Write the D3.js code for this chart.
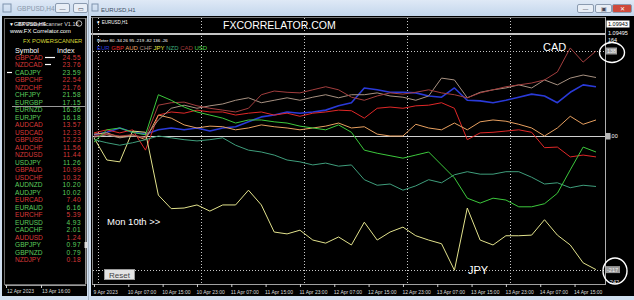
<!DOCTYPE html>
<html lang="en">
<head>
<meta charset="UTF-8">
<title>FX Correlator - EURUSD,H1</title>
<script src="https://cdn.jsdelivr.net/npm/d3@7"></script>
<style>
  html, body { margin: 0; padding: 0; background: #d9e5f2; }
  svg { display: block; font-family: 'Liberation Sans', Arial, sans-serif; }
</style>
</head>
<body>
<svg id="chart" width="634" height="300"></svg>
<script>
// ---- data ----
var currencies = ['EUR', 'GBP', 'AUD', 'CHF', 'JPY', 'NZD', 'CAD', 'USD'];
var colors = ['#2a3ad8', '#e02828', '#e8a060', '#a89282', '#e2e28c', '#3f9e7c', '#a33e3e', '#3cc83c'];
var legendColors = ['#2a3ad8', '#e02828', '#e8a060', '#a89282', '#e8e840', '#3fae7c', '#a33e3e', '#50d850'];
var meter = [80, -34, 26, 95, -219, -82, 136, -26];

// hourly bar index of each reading (bar 0 = 9 Apr 23:00)
var bars = [0, 3, 6, 9, 12, 15, 18, 21, 24, 27, 30, 33, 36, 39, 42, 45, 48, 51, 54, 57,
            60, 63, 66, 69, 72, 75, 78, 81, 84, 87, 90, 93, 96, 99, 102, 105, 108, 111, 114, 117];

var eur = [2, 6, 13, 6, 3, 10, 13, 10, 13, 8, 13, 15, 23, 31, 34, 39, 37, 39, 42, 49,
           54, 78, 75, 71, 71, 70, 65, 63, 78, 58, 57, 54, 58, 63, 68, 65, 54, 71, 83, 80];
var gbp = [5, 10, 5, 10, -23, 34, 39, 37, 42, 39, 39, 34, 37, 39, 34, 37, 32, 37, 39, 42,
           41, 29, 45, 47, 45, 49, 50, 54, 45, -6, 5, 6, 8, 10, 6, -19, -18, -34, -31, -34];
var aud = [3, 5, -2, 2, -6, 34, 29, 18, 13, 16, 15, 10, 13, 18, 15, 13, 10, 13, 16, 21,
           13, 15, 3, 0, 0, 19, 13, 10, 21, 10, 23, 26, 24, 19, 13, 0, 13, 32, 19, 26];
var chf = [-2, 2, -3, 0, -2, 26, 45, 50, 45, 49, 52, 58, 62, 54, 58, 62, 58, 63, 67, 62,
           67, 67, 70, 65, 63, 58, 65, 94, 91, 62, 71, 75, 78, 83, 78, 91, 83, 94, 99, 95];
var jpy = [-3, -39, -42, 8, 6, -96, -118, -117, -112, -122, -112, -112, -88, -112, -156, -159, -153, -169, -174, -164,
           -177, -140, -169, -156, -148, -162, -169, -175, -218, -117, -169, -177, -162, -162, -161, -136, -161, -177, -206, -217];
var nzd = [-6, -11, -15, -11, -6, 0, -3, -6, -8, -6, -3, -15, -23, -26, -31, -39, -42, -47, -44, -49,
           -47, -71, -80, -78, -88, -81, -71, -76, -63, -58, -62, -62, -58, -58, -67, -78, -76, -84, -80, -82];
var cad = [0, 3, 0, 2, -3, 50, 54, 55, 49, 45, 42, 39, 45, 67, 73, 71, 70, 75, 80, 75,
           63, 58, 65, 70, 68, 71, 75, 70, 67, 62, 70, 75, 80, 83, 86, 91, 104, 143, 120, 138];
var usd = [-10, 10, 13, 6, 2, 67, 58, 47, 39, 34, 29, 21, 26, 26, 23, 21, 16, 13, 10, 18,
           6, -23, -28, -32, -36, -31, -26, -47, -68, -101, -109, -101, -104, -115, -115, -110, -93, -55, -18, -26];
var seriesList = [eur, gbp, aud, chf, jpy, nzd, cad, usd];

var timeLabels = ['9 Apr 2023', '10 Apr 07:00', '10 Apr 15:00', '10 Apr 23:00', '11 Apr 07:00',
                  '11 Apr 15:00', '11 Apr 23:00', '12 Apr 07:00', '12 Apr 15:00', '12 Apr 23:00',
                  '13 Apr 07:00', '13 Apr 15:00', '13 Apr 23:00', '14 Apr 07:00', '14 Apr 15:00'];
var labelBars = [0, 8, 16, 24, 32, 40, 48, 56, 64, 72, 80, 88, 96, 104, 112];
var dayBars = [1, 25, 49, 73, 97];

var scanSymbols = ['GBPCAD', 'NZDCAD', 'CADJPY', 'GBPCHF', 'NZDCHF', 'CHFJPY', 'EURGBP', 'EURNZD', 'EURJPY',
                   'AUDCAD', 'USDCAD', 'GBPUSD', 'AUDCHF', 'NZDUSD', 'USDJPY', 'GBPAUD', 'USDCHF', 'AUDNZD',
                   'AUDJPY', 'EURCAD', 'EURAUD', 'EURCHF', 'EURUSD', 'CADCHF', 'AUDUSD', 'GBPJPY', 'GBPNZD', 'NZDJPY'];
var scanIndex = [24.55, 23.76, 23.59, 22.54, 21.76, 21.58, 17.15, 16.36, 16.18, 13.57, 12.33, 12.23, 11.56, 11.44,
                 11.26, 10.99, 10.32, 10.20, 10.02, 7.40, 6.16, 5.39, 4.93, 2.01, 1.24, 0.97, 0.79, 0.18];
var scanUp = [0, 0, 1, 0, 0, 1, 1, 1, 1, 0, 0, 0, 0, 0, 1, 0, 0, 1, 1, 0, 1, 0, 1, 1, 0, 1, 1, 0];

// ---- scales ----
var x = d3.scaleLinear().domain([0, 117]).range([94, 596]);
var y = d3.scaleLinear().domain([-242, 164]).range([285, 35]);
var rowY = d3.scaleLinear().domain([0, 27]).range([60, 262]);

var svg = d3.select('#chart');
var defs = svg.append('defs');
var grad = defs.append('linearGradient').attr('id', 'title').attr('x1', 0).attr('y1', 0).attr('x2', 0).attr('y2', 1);
grad.append('stop').attr('offset', '0%').attr('stop-color', '#dfe9f6');
grad.append('stop').attr('offset', '100%').attr('stop-color', '#c3d6ec');
defs.append('clipPath').attr('id', 'plot')
    .append('rect').attr('x', 93).attr('y', 35).attr('width', 512).attr('height', 249);

// window frames
svg.append('rect').attr('width', 634).attr('height', 300).attr('fill', '#d0dff0');
svg.append('rect').attr('width', 634).attr('height', 16).attr('fill', 'url(#title)');
svg.append('line').attr('x1', 88.5).attr('x2', 88.5).attr('y1', 0).attr('y2', 300).attr('stroke', '#aab8c8');

// ---- left window (scanner) ----
svg.append('rect').attr('x', 3).attr('y', 4).attr('width', 8).attr('height', 8).attr('fill', 'none').attr('stroke', '#7f93ad');
svg.append('text').attr('x', 17).attr('y', 11).attr('font-size', 6.5).attr('fill', '#8a98aa').text('GBPUSD,H4');
[[55, '\u2014'], [73, '\u25ad']].forEach(function(b) {
    svg.append('rect').attr('x', b[0] + 0.5).attr('y', 3.5).attr('width', 14).attr('height', 9)
        .attr('fill', '#e8eef6').attr('stroke', '#8b9bb0').attr('rx', 1.5);
    svg.append('text').attr('x', b[0] + 7.5).attr('y', 10.5).attr('text-anchor', 'middle')
        .attr('font-size', 6).attr('fill', '#445').text(b[1]);
});
svg.append('rect').attr('x', 2).attr('y', 16).attr('width', 85).attr('height', 280).attr('fill', '#000');
svg.append('rect').attr('x', 4.5).attr('y', 18.5).attr('width', 81).attr('height', 266)
    .attr('fill', 'none').attr('stroke', '#6c6c6c');

var left = svg.append('g');
left.append('text').attr('x', 9).attr('y', 25.5).attr('font-size', 5).attr('fill', '#fff').text('\u25bc');
left.append('text').attr('x', 14).attr('y', 25.5).attr('font-size', 5.5).attr('fill', '#fff').text('GBPUSD,H4');
left.append('text').attr('x', 18).attr('y', 25.5).attr('font-size', 5.5).attr('fill', '#ddd').text('FX PowerScanner V1.16');
left.append('circle').attr('cx', 79).attr('cy', 23.5).attr('r', 2.8).attr('fill', 'none').attr('stroke', '#fff').attr('stroke-width', 0.7);
left.append('text').attr('x', 10).attr('y', 33).attr('font-size', 5.8).attr('fill', '#fff').text('www.FX Correlator.com');
left.append('text').attr('x', 23).attr('y', 43).attr('font-size', 5.8).attr('fill', '#d8d838').text('FX POWERSCANNER');
left.append('text').attr('x', 15).attr('y', 52.5).attr('font-size', 7.2).attr('fill', '#fff').text('Symbol');
left.append('text').attr('x', 57).attr('y', 52.5).attr('font-size', 7.2).attr('fill', '#fff').text('Index');

left.selectAll('.sym').data(scanSymbols).enter().append('text')
    .attr('class', 'sym').attr('x', 15).attr('y', function(d, i) { return rowY(i); })
    .attr('font-size', 6.6).attr('fill', function(d, i) { return scanUp[i] ? '#5ccc5c' : '#d83838'; })
    .text(function(d) { return d; });
left.selectAll('.idx').data(scanIndex).enter().append('text')
    .attr('class', 'idx').attr('x', 81).attr('y', function(d, i) { return rowY(i); })
    .attr('text-anchor', 'end').attr('font-size', 6.6).attr('letter-spacing', 0.4)
    .attr('fill', function(d, i) { return scanUp[i] ? '#5ccc5c' : '#d83838'; })
    .text(function(d) { return d.toFixed(2); });

// price markers showing through the scanner
left.append('line').attr('x1', 45).attr('x2', 55).attr('y1', 57.5).attr('y2', 57.5).attr('stroke', '#fff').attr('stroke-width', 1.2);
left.append('line').attr('x1', 45).attr('x2', 51).attr('y1', 64.5).attr('y2', 64.5).attr('stroke', '#fff').attr('stroke-width', 1.2);
left.append('line').attr('x1', 7).attr('x2', 12).attr('y1', 72.5).attr('y2', 72.5).attr('stroke', '#fff').attr('stroke-width', 1.2);
left.append('line').attr('x1', 12).attr('x2', 85).attr('y1', 106.5).attr('y2', 106.5).attr('stroke', '#9a9a9a');
left.append('line').attr('x1', 86).attr('x2', 86).attr('y1', 18).attr('y2', 284).attr('stroke', '#b8b8b8');
left.append('rect').attr('x', 84.5).attr('y', 242).attr('width', 3).attr('height', 6).attr('fill', '#ddd');

left.append('line').attr('x1', 5).attr('x2', 86).attr('y1', 285.5).attr('y2', 285.5).attr('stroke', '#999');
[[6, '12 Apr 2023'], [41, '13 Apr 16:00']].forEach(function(t) {
    left.append('line').attr('x1', t[0] + 0.5).attr('x2', t[0] + 0.5).attr('y1', 285).attr('y2', 288).attr('stroke', '#ccc');
    left.append('text').attr('x', t[0] + 1).attr('y', 293).attr('font-size', 5).attr('fill', '#ddd').text(t[1]);
});

// ---- main window ----
svg.append('rect').attr('x', 92).attr('y', 4).attr('width', 6).attr('height', 7).attr('fill', 'none').attr('stroke', '#7f93ad');
svg.append('text').attr('x', 101).attr('y', 11.5).attr('font-size', 6).attr('fill', '#3c4c62').text('EURUSD,H1');
[[577, '#e8eef6', '\u2014', '#445'], [595, '#e8eef6', '\u25a3', '#445'], [612, '#cf4a3c', '\u2715', '#fff']].forEach(function(b) {
    svg.append('rect').attr('x', b[0] + 0.5).attr('y', 4.5).attr('width', b[0] === 612 ? 19 : 16).attr('height', 8)
        .attr('fill', b[1]).attr('stroke', '#8b9bb0').attr('rx', 1.5);
    svg.append('text').attr('x', b[0] + (b[0] === 612 ? 10 : 8.5)).attr('y', 11).attr('text-anchor', 'middle')
        .attr('font-size', 5.5).attr('fill', b[3]).text(b[2]);
});
svg.append('rect').attr('x', 91).attr('y', 16).attr('width', 543).attr('height', 280).attr('fill', '#000');

// frame lines
svg.append('line').attr('x1', 91).attr('x2', 605).attr('y1', 17.5).attr('y2', 17.5).attr('stroke', '#777');
svg.append('line').attr('x1', 91).attr('x2', 605).attr('y1', 34).attr('y2', 34).attr('stroke', '#c4c4c4').attr('stroke-width', 2);
svg.append('line').attr('x1', 92.5).attr('x2', 92.5).attr('y1', 17).attr('y2', 284).attr('stroke', '#8a8a8a');
svg.append('line').attr('x1', 605.5).attr('x2', 605.5).attr('y1', 17).attr('y2', 284).attr('stroke', '#b0b0b0');
svg.append('line').attr('x1', 92).attr('x2', 606).attr('y1', 284.5).attr('y2', 284.5).attr('stroke', '#a0a0a0');

// grid
svg.selectAll('.vgrid').data(dayBars).enter().append('line')
    .attr('class', 'vgrid')
    .attr('x1', function(d) { return Math.round(x(d)) + 0.5; })
    .attr('x2', function(d) { return Math.round(x(d)) + 0.5; })
    .attr('y1', 18).attr('y2', 284)
    .attr('stroke', '#c8c8c8').attr('stroke-dasharray', '1,2');
[138, -217].forEach(function(v) {
    svg.append('line').attr('x1', 93).attr('x2', 605)
        .attr('y1', Math.round(y(v)) + 0.5).attr('y2', Math.round(y(v)) + 0.5)
        .attr('stroke', '#c8c8c8').attr('stroke-dasharray', '1,2');
});
svg.append('line').attr('x1', 93).attr('x2', 605)
    .attr('y1', Math.round(y(0)) + 0.5).attr('y2', Math.round(y(0)) + 0.5)
    .attr('stroke', '#d0d0d0').attr('stroke-width', 1.2);

// currency strength lines
var line = d3.line()
    .x(function(d) { return x(d[0]); })
    .y(function(d) { return y(d[1]); });
var plot = svg.append('g').attr('clip-path', 'url(#plot)');
seriesList.forEach(function(s, k) {
    plot.append('path')
        .datum(bars.map(function(b, i) { return [b, s[i]]; }))
        .attr('fill', 'none')
        .attr('stroke', colors[k])
        .attr('stroke-width', k === 0 ? 1.6 : 1)
        .attr('stroke-linejoin', 'round')
        .attr('d', line);
});

// price window texts
svg.append('text').attr('x', 96).attr('y', 23.5).attr('font-size', 4.5).attr('fill', '#fff').text('\u25bc EURUSD,H1');
svg.append('text').attr('x', 223).attr('y', 29).attr('font-size', 10.5).attr('fill', '#fff').text('FXCORRELATOR.COM');

// meter + legend
svg.append('text').attr('x', 97).attr('y', 42).attr('font-size', 4.4).attr('fill', '#fff')
    .text('Meter ' + meter.join(' '));
var legend = svg.append('text').attr('x', 97).attr('y', 50).attr('font-size', 6);
currencies.forEach(function(c, k) {
    legend.append('tspan').attr('fill', legendColors[k]).text(c + (k < currencies.length - 1 ? ' ' : ''));
});

// time axis
var xAxis = d3.axisBottom(x).tickValues(labelBars).tickSize(3)
    .tickFormat(function(d, i) { return timeLabels[i]; });
var gx = svg.append('g').attr('transform', 'translate(0,284)').call(xAxis);
gx.select('.domain').remove();
gx.selectAll('line').attr('stroke', '#ccc');
gx.selectAll('text').attr('fill', '#ddd').attr('font-size', 5).attr('text-anchor', 'start')
    .attr('font-family', "'Liberation Sans', Arial, sans-serif").attr('dx', -1);

// right price / value scale
var ax = svg.append('g').attr('font-size', 5.5);
ax.append('rect').attr('x', 606.5).attr('y', 20.5).attr('width', 23).attr('height', 7).attr('fill', '#fff');
ax.append('text').attr('x', 608).attr('y', 26.3).attr('fill', '#000').text('1.09943');
ax.append('text').attr('x', 608).attr('y', 35).attr('fill', '#fff').text('1.09495');
ax.append('text').attr('x', 608).attr('y', y(164) + 6.5).attr('fill', '#fff').text('164');
ax.append('line').attr('x1', 608).attr('x2', 616).attr('y1', y(164) + 7.5).attr('y2', y(164) + 7.5).attr('stroke', '#fff').attr('stroke-width', 0.6);
ax.append('rect').attr('x', 606).attr('y', y(138) - 3.5).attr('width', 11).attr('height', 7).attr('fill', '#9a9a9a');
ax.append('text').attr('x', 607).attr('y', y(138) + 2.2).attr('fill', '#f2f2f2').text('138');
ax.append('text').attr('x', 607).attr('y', y(0) + 2.2).attr('fill', '#fff').text('0.00');
ax.append('rect').attr('x', 605.5).attr('y', y(0) - 3).attr('width', 5).attr('height', 6.5).attr('fill', '#b8b8b8');
ax.append('rect').attr('x', 606).attr('y', y(-217) - 3.5).attr('width', 14).attr('height', 7).attr('fill', '#9a9a9a');
ax.append('text').attr('x', 607).attr('y', y(-217) + 2.2).attr('fill', '#f2f2f2').text('-217');
ax.append('text').attr('x', 608).attr('y', y(-242) - 1.5).attr('fill', '#fff').text('-242');

// annotations
svg.append('text').attr('x', 543).attr('y', 51).attr('font-size', 11).attr('fill', '#fff').text('CAD');
svg.append('text').attr('x', 468).attr('y', 273.5).attr('font-size', 11).attr('fill', '#fff').text('JPY');
svg.append('text').attr('x', 107).attr('y', 224.5).attr('font-size', 9.5).attr('fill', '#fff').text('Mon 10th >>');
svg.append('ellipse').attr('cx', 612).attr('cy', 52.5).attr('rx', 12.5).attr('ry', 10)
    .attr('fill', 'none').attr('stroke', '#fff').attr('stroke-width', 1.4);
svg.append('ellipse').attr('cx', 615).attr('cy', 271).attr('rx', 12).attr('ry', 13)
    .attr('fill', 'none').attr('stroke', '#fff').attr('stroke-width', 1.4);

// reset button
svg.append('rect').attr('x', 104.5).attr('y', 269.5).attr('width', 30).attr('height', 10)
    .attr('fill', '#e4e4e4').attr('stroke', '#9a9a9a');
svg.append('text').attr('x', 119.5).attr('y', 277.5).attr('text-anchor', 'middle')
    .attr('font-size', 8).attr('fill', '#444').text('Reset');
</script>
</body>
</html>
